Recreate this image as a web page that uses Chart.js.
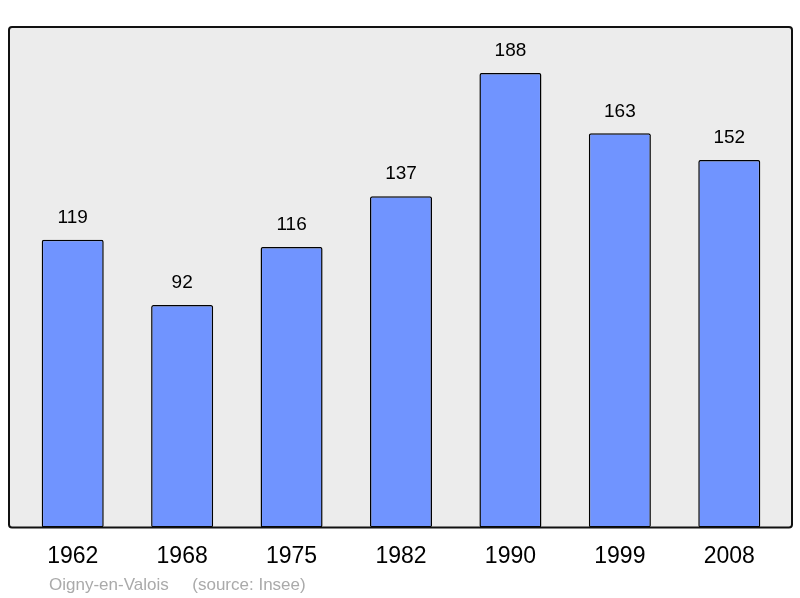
<!DOCTYPE html>
<html>
<head>
<meta charset="utf-8">
<script src="https://cdn.jsdelivr.net/npm/chart.js@4"></script>
<style>
  html, body { margin: 0; padding: 0; background: #fff; }
  #wrap { width: 800px; height: 598px; }
</style>
</head>
<body>
<div id="wrap"><canvas id="popChart" width="800" height="598"></canvas></div>
<script>
// Population data
var years = ['1962', '1968', '1975', '1982', '1990', '1999', '2008'];
var population = [119, 92, 116, 137, 188, 163, 152];
var townName = 'Oigny-en-Valois';
var sourceText = '(source: Insee)';

// Grey frame behind the plot area
var framePlugin = {
  id: 'frame',
  beforeDraw: function (chart) {
    var c = chart.ctx, a = chart.chartArea;
    var x = a.left - 9, y = a.top, w = a.right - a.left + 17, h = a.bottom - a.top;
    c.save();
    c.beginPath();
    c.roundRect(x, y, w, h, 3);
    c.fillStyle = '#ececec';
    c.fill();
    c.restore();
  },
  afterDatasetsDraw: function (chart) {
    var c = chart.ctx, a = chart.chartArea;
    var x = a.left - 9, y = a.top, w = a.right - a.left + 17, h = a.bottom - a.top;
    c.save();
    c.beginPath();
    c.roundRect(x, y, w, h, 3);
    c.lineWidth = 2;
    c.strokeStyle = '#111';
    c.stroke();

    // value labels above bars
    c.fillStyle = '#000';
    c.font = '19px "Liberation Sans", Arial, sans-serif';
    c.textAlign = 'center';
    c.textBaseline = 'middle';
    chart.getDatasetMeta(0).data.forEach(function (bar, i) {
      c.fillText(String(population[i]), bar.x, bar.y - 22);
    });

    // footer
    c.fillStyle = '#aaaaaa';
    c.font = '17px "Liberation Sans", Arial, sans-serif';
    c.textAlign = 'left';
    c.fillText(townName + '     ' + sourceText, a.left + 31, chart.height - 13);
    c.restore();
  }
};

var ctx = document.getElementById('popChart').getContext('2d');
var popChart = new Chart(ctx, {
  type: 'bar',
  data: {
    labels: years,
    datasets: [{
      data: population,
      backgroundColor: '#7094ff',
      borderColor: '#000',
      borderWidth: 1.5,
      borderRadius: 2,
      borderSkipped: false,
      barPercentage: 1,
      categoryPercentage: 0.567
    }]
  },
  options: {
    responsive: false,
    animation: false,
    layout: { padding: { left: 18, right: 16, top: 27, bottom: 13 } },
    plugins: {
      legend: { display: false },
      tooltip: { enabled: false }
    },
    scales: {
      x: {
        grid: { display: false, drawTicks: false },
        border: { display: false },
        ticks: {
          color: '#000',
          padding: 15,
          font: { family: '"Liberation Sans", Arial, sans-serif', size: 23 }
        }
      },
      y: {
        display: false,
        min: 0,
        max: 207
      }
    }
  },
  plugins: [framePlugin]
});
</script>
</body>
</html>
